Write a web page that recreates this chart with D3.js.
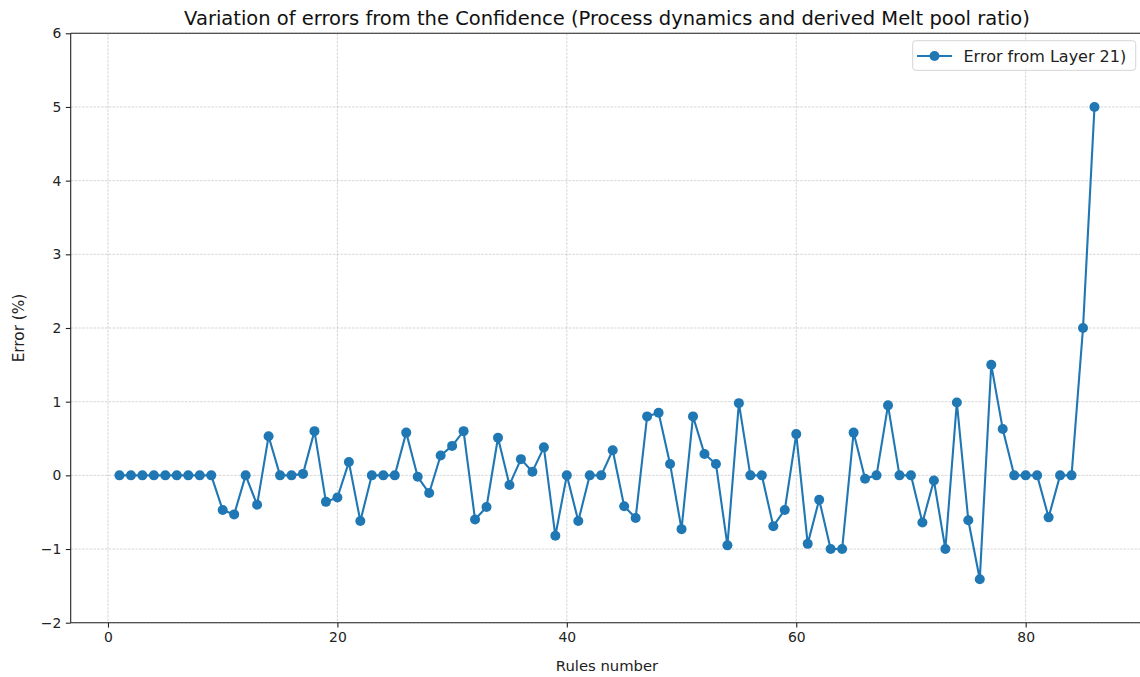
<!DOCTYPE html>
<html>
<head>
<meta charset="utf-8">
<script src="https://cdn.jsdelivr.net/npm/d3@7"></script>
<style>
  html, body { margin: 0; padding: 0; background: #fff; }
  svg { display: block; font-family: "DejaVu Sans", sans-serif; }
</style>
</head>
<body>
<svg id="chart" width="1140" height="677"></svg>
<script>
const rules = d3.range(1, 87);
const errors = [
  0, 0, 0, 0, 0, 0, 0, 0, 0, -0.47,
  -0.53, 0, -0.40, 0.53, 0, 0, 0.02, 0.60, -0.36, -0.30,
  0.18, -0.62, 0, 0, 0, 0.58, -0.02, -0.24, 0.27, 0.40,
  0.60, -0.60, -0.43, 0.51, -0.13, 0.22, 0.05, 0.38, -0.82, 0,
  -0.62, 0, 0, 0.34, -0.42, -0.58, 0.80, 0.85, 0.155, -0.73,
  0.80, 0.29, 0.155, -0.95, 0.98, 0, 0, -0.69, -0.47, 0.56,
  -0.93, -0.33, -1.0, -1.0, 0.58, -0.045, 0, 0.95, 0, 0,
  -0.64, -0.07, -1.0, 0.99, -0.61, -1.41, 1.50, 0.63, 0, 0,
  0, -0.57, 0, 0, 2.0, 5.0
];
const xTicks = [0, 20, 40, 60, 80];
const yTicks = [-2, -1, 0, 1, 2, 3, 4, 5, 6];
const titleText = "Variation of errors from the Confidence (Process dynamics and derived Melt pool ratio)";
const xLabel = "Rules number";
const yLabel = "Error (%)";
const seriesName = "Error from Layer 21)";

(function () {
const data = rules.map((r, i) => ({ x: r, y: errors[i] }));

const svg = d3.select("#chart");
const color = "#1f77b4";

const pLeft = 70.7, pTop = 33.3, pBottom = 622.7;
const unitX = 11.471;
const x = d3.scaleLinear().domain([-3.25, 90.25]).range([pLeft, pLeft + 93.5 * unitX]);
const y = d3.scaleLinear().domain([-2, 6]).range([pBottom, pTop]);
const pRight = x.range()[1];

svg.append("rect").attr("width", 1140).attr("height", 677).attr("fill", "#fff");

// grid
const grid = svg.append("g");
grid.selectAll(".gx").data(xTicks).join("line")
  .attr("x1", d => x(d)).attr("x2", d => x(d))
  .attr("y1", pTop).attr("y2", pBottom)
  .attr("stroke", "#c4c4c4").attr("stroke-width", 0.7).attr("stroke-dasharray", "2.6,1.2");
grid.selectAll(".gy").data(yTicks).join("line")
  .attr("x1", pLeft).attr("x2", pRight)
  .attr("y1", d => y(d)).attr("y2", d => y(d))
  .attr("stroke", "#c4c4c4").attr("stroke-width", 0.7).attr("stroke-dasharray", "2.6,1.2");

// axes
const fmt = d => d < 0 ? "\u2212" + Math.abs(d) : String(d);
const xAxis = svg.append("g").attr("transform", `translate(0,${pBottom})`)
  .call(d3.axisBottom(x).tickValues(xTicks).tickFormat(fmt).tickSize(4.9).tickPadding(4.5));
const yAxis = svg.append("g").attr("transform", `translate(${pLeft},0)`)
  .call(d3.axisLeft(y).tickValues(yTicks).tickFormat(fmt).tickSize(4.9).tickPadding(4.5));
[xAxis, yAxis].forEach(g => {
  g.selectAll("text").attr("font-size", 13.9).attr("fill", "#222").attr("font-family", "DejaVu Sans");
  g.selectAll("line").attr("stroke", "#222").attr("stroke-width", 1.1);
  g.select(".domain").attr("stroke", "#222").attr("stroke-width", 1.1);
});
xAxis.select(".domain").attr("d", `M${pLeft},0H${pRight}`);
yAxis.select(".domain").attr("d", `M0,${pBottom}V${pTop}`);
// top spine
svg.append("line").attr("x1", pLeft).attr("x2", pRight).attr("y1", pTop).attr("y2", pTop)
  .attr("stroke", "#222").attr("stroke-width", 1.1);

// line + markers
const line = d3.line().x(d => x(d.x)).y(d => y(d.y));
svg.append("path").datum(data).attr("d", line)
  .attr("fill", "none").attr("stroke", color).attr("stroke-width", 2.1)
  .attr("stroke-linejoin", "round");
svg.append("g").selectAll("circle").data(data).join("circle")
  .attr("cx", d => x(d.x)).attr("cy", d => y(d.y)).attr("r", 5).attr("fill", color);

// title & labels
const midX = (pLeft + pRight) / 2;
svg.append("text").attr("x", midX).attr("y", 24.5).attr("text-anchor", "middle")
  .attr("font-size", 19.5).attr("fill", "#111").text(titleText);
svg.append("text").attr("x", midX).attr("y", 670.5).attr("text-anchor", "middle")
  .attr("font-size", 14.8).attr("fill", "#222").text(xLabel);
svg.append("text").attr("transform", `translate(23.5,${(pTop + pBottom) / 2}) rotate(-90)`)
  .attr("text-anchor", "middle").attr("font-size", 15.3).attr("fill", "#222").text(yLabel);

// legend
const lg = svg.append("g");
lg.append("rect").attr("x", 912.7).attr("y", 40.7).attr("width", 223).attr("height", 29.6)
  .attr("rx", 3).attr("fill", "#fff").attr("fill-opacity", 0.8)
  .attr("stroke", "#d5d5d5").attr("stroke-width", 1);
lg.append("line").attr("x1", 917).attr("x2", 952).attr("y1", 56).attr("y2", 56)
  .attr("stroke", color).attr("stroke-width", 2.1);
lg.append("circle").attr("cx", 934.5).attr("cy", 56).attr("r", 5).attr("fill", color);
lg.append("text").attr("x", 963.5).attr("y", 61.8).attr("font-size", 16).attr("fill", "#222").text(seriesName);
})();
</script>
</body>
</html>
